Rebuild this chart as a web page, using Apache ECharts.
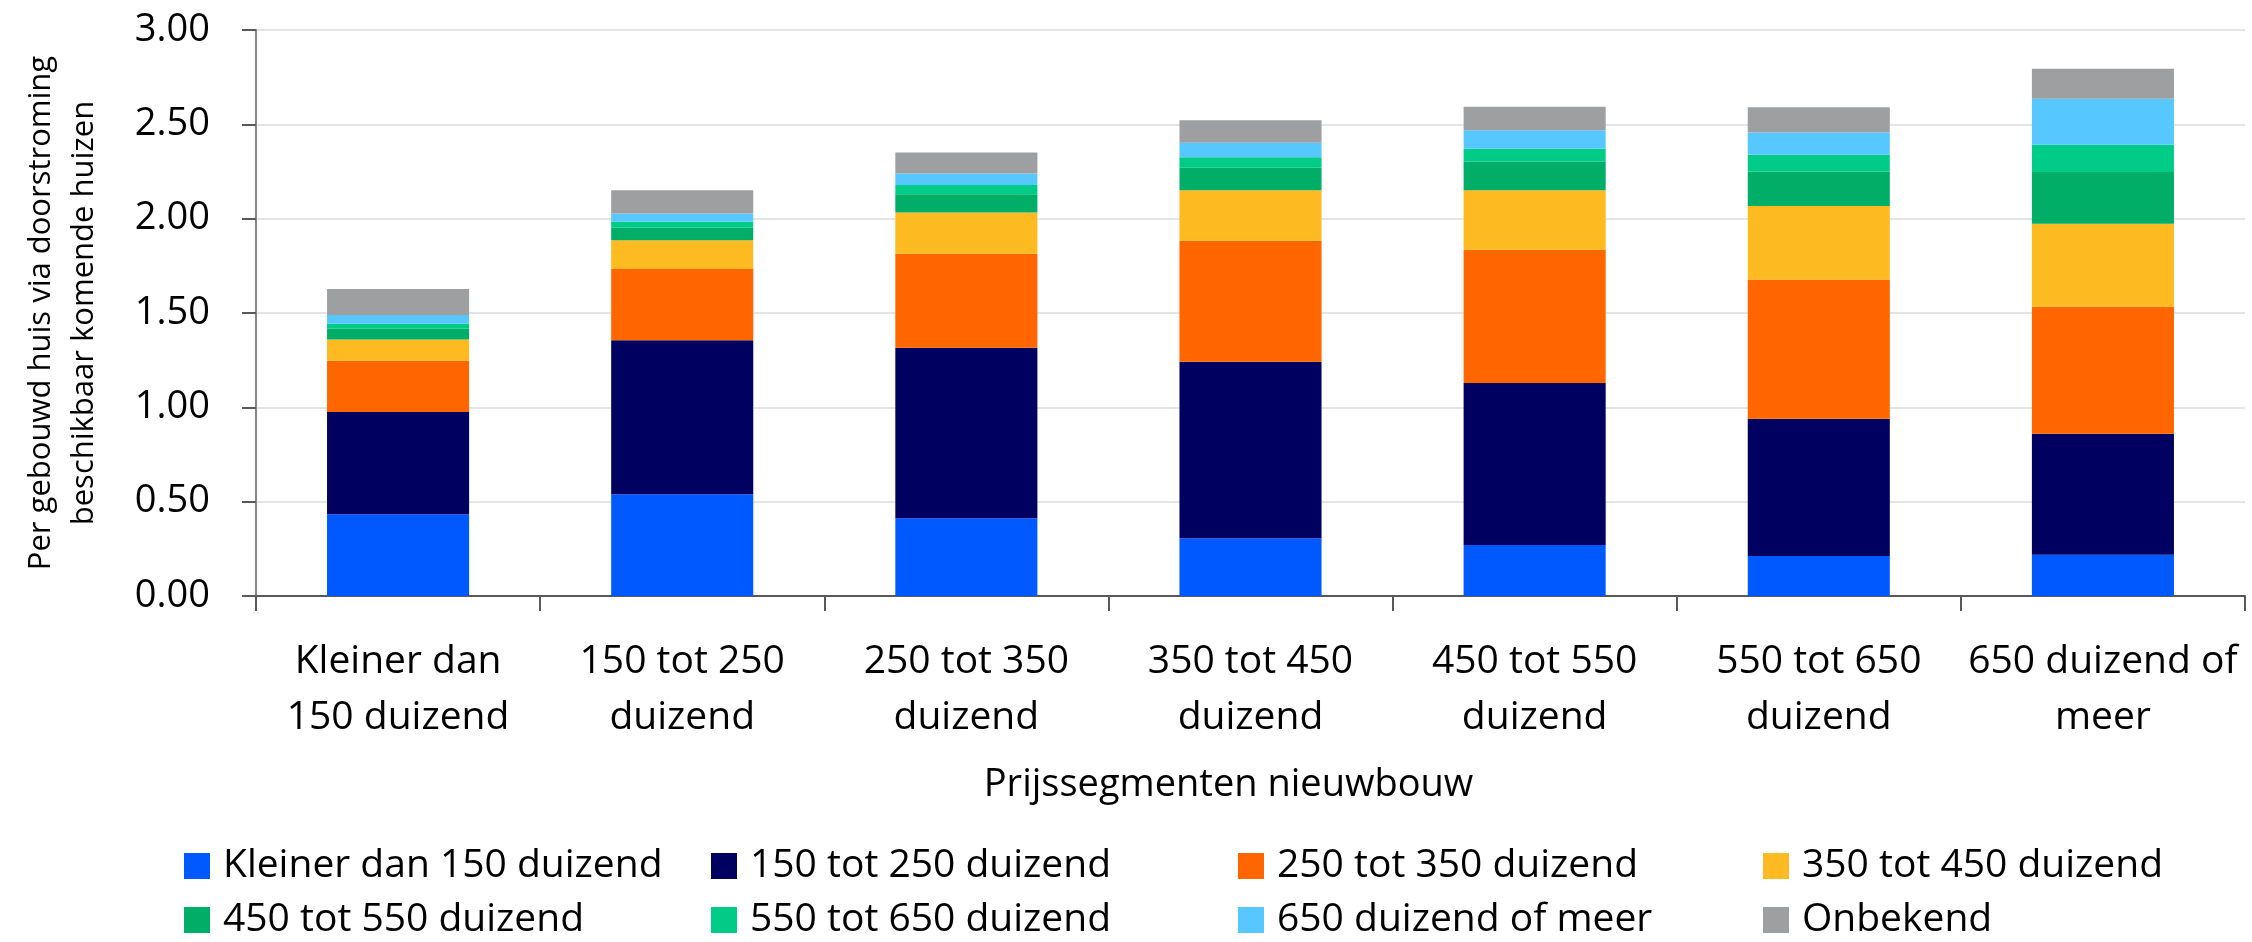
<!DOCTYPE html>
<html>
<head>
<meta charset="utf-8">
<title>Doorstroming per prijssegment</title>
<script src="https://cdn.jsdelivr.net/npm/echarts@6/dist/echarts.min.js"></script>
<style>
  html, body { margin: 0; padding: 0; background: #fff; }
  #chart { width: 2252px; height: 942px; }
</style>
</head>
<body>
<div id="chart"></div>
<script>
// categorieën (prijssegment nieuwbouw)
const categories = [
  "Kleiner dan\n150 duizend",
  "150 tot 250\nduizend",
  "250 tot 350\nduizend",
  "350 tot 450\nduizend",
  "450 tot 550\nduizend",
  "550 tot 650\nduizend",
  "650 duizend of\nmeer"
];

const seriesNames = [
  "Kleiner dan 150 duizend",
  "150 tot 250 duizend",
  "250 tot 350 duizend",
  "350 tot 450 duizend",
  "450 tot 550 duizend",
  "550 tot 650 duizend",
  "650 duizend of meer",
  "Onbekend"
];

const seriesColors = ["#0059ff", "#000060", "#ff6600", "#fdba21", "#00ae68", "#00cc88", "#57c8ff", "#9e9fa0"];

// waarden per gestapeld segment
const kleiner150 = [0.433, 0.539, 0.412, 0.306, 0.270, 0.212, 0.219];
const s150tot250 = [0.542, 0.816, 0.904, 0.936, 0.859, 0.728, 0.641];
const s250tot350 = [0.272, 0.378, 0.498, 0.641, 0.706, 0.738, 0.673];
const s350tot450 = [0.113, 0.152, 0.219, 0.267, 0.315, 0.389, 0.440];
const s450tot550 = [0.057, 0.067, 0.097, 0.120, 0.152, 0.182, 0.274];
const s550tot650 = [0.026, 0.032, 0.048, 0.056, 0.069, 0.090, 0.145];
const s650ofMeer = [0.046, 0.044, 0.062, 0.076, 0.097, 0.118, 0.244];
const onbekend = [0.138, 0.122, 0.111, 0.120, 0.125, 0.134, 0.159];

const yTicks = { min: 0, max: 3, interval: 0.5 };

const seriesData = [kleiner150, s150tot250, s250tot350, s350tot450, s450tot550, s550tot650, s650ofMeer, onbekend];

const font = "'Open Sans', 'Noto Sans', sans-serif";

const chart = echarts.init(document.getElementById("chart"));

// legenda als vier kolommen van twee regels
const legendCols = [184, 711, 1238, 1763];
const legends = legendCols.map((x, i) => ({
  orient: "vertical",
  left: x,
  top: 845,
  padding: 0,
  itemWidth: 26,
  itemHeight: 26,
  itemGap: 12,
  icon: "rect",
  selectedMode: false,
  data: [seriesNames[i], seriesNames[i + 4]],
  textStyle: { fontFamily: font, fontSize: 39, color: "#000", lineHeight: 42, padding: [0, 0, 0, 8] }
}));

const option = {
  animation: false,
  color: seriesColors,
  grid: { left: 256, right: 7, top: 30, bottom: 346 },
  legend: legends,
  xAxis: {
    type: "category",
    data: categories,
    name: "Prijssegmenten nieuwbouw",
    nameLocation: "middle",
    nameGap: 170,
    nameTextStyle: { fontFamily: font, fontSize: 38, color: "#000", padding: [0, 44, 0, 0] },
    axisLine: { lineStyle: { color: "#595959", width: 2 } },
    axisTick: { show: true, length: 15, lineStyle: { color: "#595959", width: 2 } },
    axisLabel: { fontFamily: font, fontSize: 39, color: "#000", margin: 38, lineHeight: 56, interval: 0 }
  },
  yAxis: {
    type: "value",
    min: yTicks.min,
    max: yTicks.max,
    interval: yTicks.interval,
    name: "Per gebouwd huis via doorstroming\nbeschikbaar komende huizen",
    nameLocation: "middle",
    nameGap: 150,
    nameTextStyle: { fontFamily: font, fontSize: 31, color: "#000", lineHeight: 43 },
    axisLine: { show: true, lineStyle: { color: "#868686", width: 2 } },
    axisTick: { show: true, length: 14, lineStyle: { color: "#595959", width: 2 } },
    axisLabel: {
      fontFamily: font, fontSize: 38, color: "#000", margin: 46,
      formatter: v => v.toFixed(2)
    },
    splitLine: { lineStyle: { color: "#e4e4e4", width: 2 } }
  },
  series: seriesNames.map((name, i) => ({
    name: name,
    type: "bar",
    stack: "totaal",
    barCategoryGap: "50%",
    data: seriesData[i]
  }))
};

chart.setOption(option);
</script>
</body>
</html>
